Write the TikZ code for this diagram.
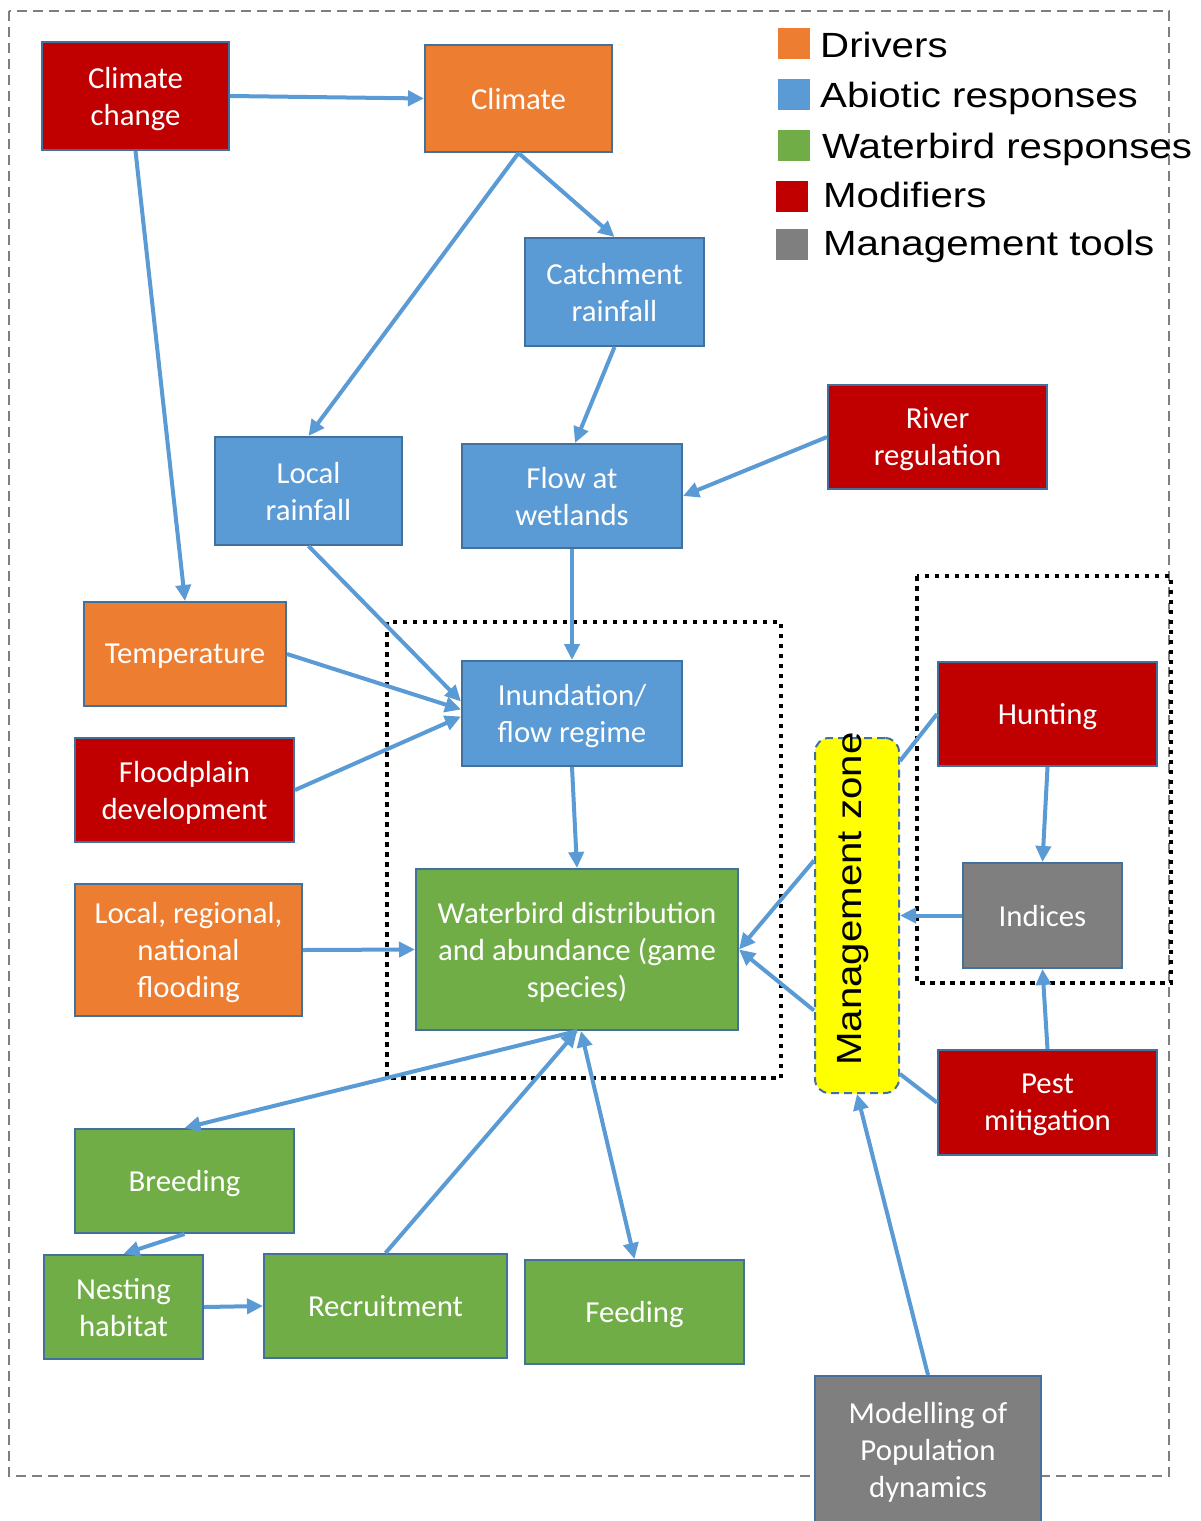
\documentclass[tikz,border=0pt]{standalone}
\usepackage{fontspec}
\setmainfont[FakeStretch=1.01]{Carlito}
\newfontfamily\legf[FakeStretch=1.15]{Liberation Sans}
\usetikzlibrary{arrows.meta,calc}
\definecolor{cred}{HTML}{C00000}
\definecolor{corange}{HTML}{ED7D31}
\definecolor{cblue}{HTML}{5B9BD5}
\definecolor{cgreen}{HTML}{70AD47}
\definecolor{cgray}{HTML}{7F7F7F}
\definecolor{cborder}{HTML}{41719C}
\definecolor{cyel}{HTML}{FFFF00}
\tikzset{
  box/.style={draw=cborder, line width=2pt, text=white, align=center, inner sep=0pt,
    font=\fontsize{30.5}{37}\selectfont, text depth=0pt},
  arr/.style={draw=cblue, line width=4pt, -{Triangle[length=16pt,width=15pt]}},
  darr/.style={draw=cblue, line width=4pt, {Triangle[length=16pt,width=15pt]}-{Triangle[length=16pt,width=15pt]}},
  ln/.style={draw=cblue, line width=4pt},
  lsq/.style={minimum width=32pt, minimum height=31pt, inner sep=0pt},
  ltxt/.style={anchor=base west, inner sep=0pt, font=\legf\fontsize{35}{40}\selectfont},
  dotbox/.style={draw=black, line width=4.5pt, dash pattern=on 4.5pt off 5.5pt},
}
\begin{document}
\begin{tikzpicture}[x=1pt,y=-1pt]
\clip (0,0) rectangle (1200,1521);
\fill[white] (0,0) rectangle (1200,1521);
% outer dashed frame
\draw[cgray, line width=2pt, dash pattern=on 10pt off 6pt] (9,11) rectangle (1169,1476);
% dotted groups
\draw[dotbox] (387,622) rectangle (781,1078);
\draw[dotbox] (917,576) rectangle (1171,983);

% legend
\node[lsq, fill=corange] (lq1) at (794,43.5) {};
\node[lsq, fill=cblue] (lq2) at (794,94) {};
\node[lsq, fill=cgreen] (lq3) at (793.5,145) {};
\node[lsq, fill=cred] (lq4) at (791.5,196) {};
\node[lsq, fill=cgray] (lq5) at (791.5,244.5) {};
\node[ltxt] (lt1) at (820,57) {Drivers};
\node[ltxt] (lt2) at (820,107) {Abiotic responses};
\node[ltxt] (lt3) at (822,158) {Waterbird responses};
\node[ltxt] (lt4) at (823,207) {Modifiers};
\node[ltxt] (lt5) at (823,255) {Management tools};

% boxes
\node[box, fill=cred, minimum width=187pt, minimum height=108pt] (cc) at (135.5,96) {Climate\\change};
\node[box, fill=corange, minimum width=187pt, minimum height=107pt] (clim) at (518.5,98.5) {Climate};
\node[box, fill=cblue, minimum width=179pt, minimum height=108pt] (catch) at (614.5,292) {Catchment\\rainfall};
\node[box, fill=cblue, minimum width=187pt, minimum height=108pt] (lr) at (308.5,491) {Local\\rainfall};
\node[box, fill=cblue, minimum width=220pt, minimum height=104pt] (flow) at (572,496) {Flow at\\wetlands};
\node[box, fill=cred, minimum width=219pt, minimum height=104pt] (rr) at (937.5,437) {River\\regulation};
\node[box, fill=corange, minimum width=202pt, minimum height=104pt] (temp) at (185,654) {Temperature};
\node[box, fill=cred, minimum width=219pt, minimum height=104pt] (fp) at (184.5,790) {Floodplain\\development};
\node[box, fill=cblue, minimum width=220pt, minimum height=105pt] (inund) at (572,713.5) {Inundation/\\flow regime};
\node[box, fill=corange, minimum width=227pt, minimum height=132pt] (lf) at (188.5,950) {Local, regional,\\national\\flooding};
\node[box, fill=cgreen, minimum width=322pt, minimum height=161pt] (wb) at (577,949.5) {Waterbird distribution\\and abundance (game\\species)};
\node[box, fill=cgreen, minimum width=219pt, minimum height=104pt] (br) at (184.5,1181) {Breeding};
\node[box, fill=cgreen, minimum width=159pt, minimum height=104pt] (nest) at (123.5,1307) {Nesting\\habitat};
\node[box, fill=cgreen, minimum width=243pt, minimum height=104pt] (rec) at (385.5,1306) {Recruitment};
\node[box, fill=cgreen, minimum width=219pt, minimum height=104pt] (feed) at (634.5,1312) {Feeding};
\node[box, fill=cred, minimum width=219pt, minimum height=104pt] (hunt) at (1047.5,714) {Hunting};
\node[box, fill=cgray, minimum width=159pt, minimum height=105pt] (ind) at (1042.5,915.5) {Indices};
\node[box, fill=cred, minimum width=219pt, minimum height=105pt] (pest) at (1047.5,1102.5) {Pest\\mitigation};
\node[box, fill=cgray, minimum width=226pt, minimum height=148pt] (model) at (928,1450) {Modelling of\\Population\\dynamics};

% management zone
\node[draw=cborder, line width=2pt, dash pattern=on 8pt off 5pt, fill=cyel, rounded corners=14pt,
      minimum width=84pt, minimum height=355pt, inner sep=0pt] (mz) at (857,915.5) {};
\node[rotate=90, inner sep=0pt, font=\legf\fontsize{35}{40}\selectfont] (mzt) at (853,899) {Management zone};

% connectors
\draw[arr] (cc.east) -- (clim.west);
\draw[arr] (cc.south) -- (temp.north);
\draw[arr] (clim.south) -- (lr.north);
\draw[arr] (clim.south) -- (catch.north);
\draw[arr] (catch.south) -- ($(flow.north)+(3,0)$);
\draw[arr] (rr.west) -- (flow.east);
\draw[arr] (flow.south) -- (inund.north);
\draw[arr] (lr.south) -- ($(inund.west)+(0,-12)$);
\draw[arr] (temp.east) -- ($(inund.west)+(0,-4)$);
\draw[arr] (fp.east) -- ($(inund.west)+(0,3)$);
\draw[arr] (inund.south) -- (wb.north);
\draw[arr] (lf.east) -- (wb.west);
\draw[arr] (wb.south) -- (br.north);
\draw[arr] (br.south) -- (nest.north);
\draw[arr] (nest.east) -- (rec.west);
\draw[arr] (rec.north) -- (wb.south);
\draw[darr] ($(wb.south)+(4,0)$) -- (feed.north);
\draw[arr] (hunt.south) -- (ind.north);
\draw[arr] (pest.north) -- (ind.south);
\draw[arr] (ind.west) -- (mz.east);
\draw[ln] (hunt.west) -- ($(mz.north east)+(0,24)$);
\draw[ln] (pest.west) -- ($(mz.south east)+(0,-20)$);
\draw[arr] ($(mz.west)+(0,-55)$) -- (wb.east);
\draw[arr] ($(mz.west)+(0,95)$) -- (wb.east);
\draw[arr] (model.north) -- (mz.south);
\end{tikzpicture}
\end{document}
